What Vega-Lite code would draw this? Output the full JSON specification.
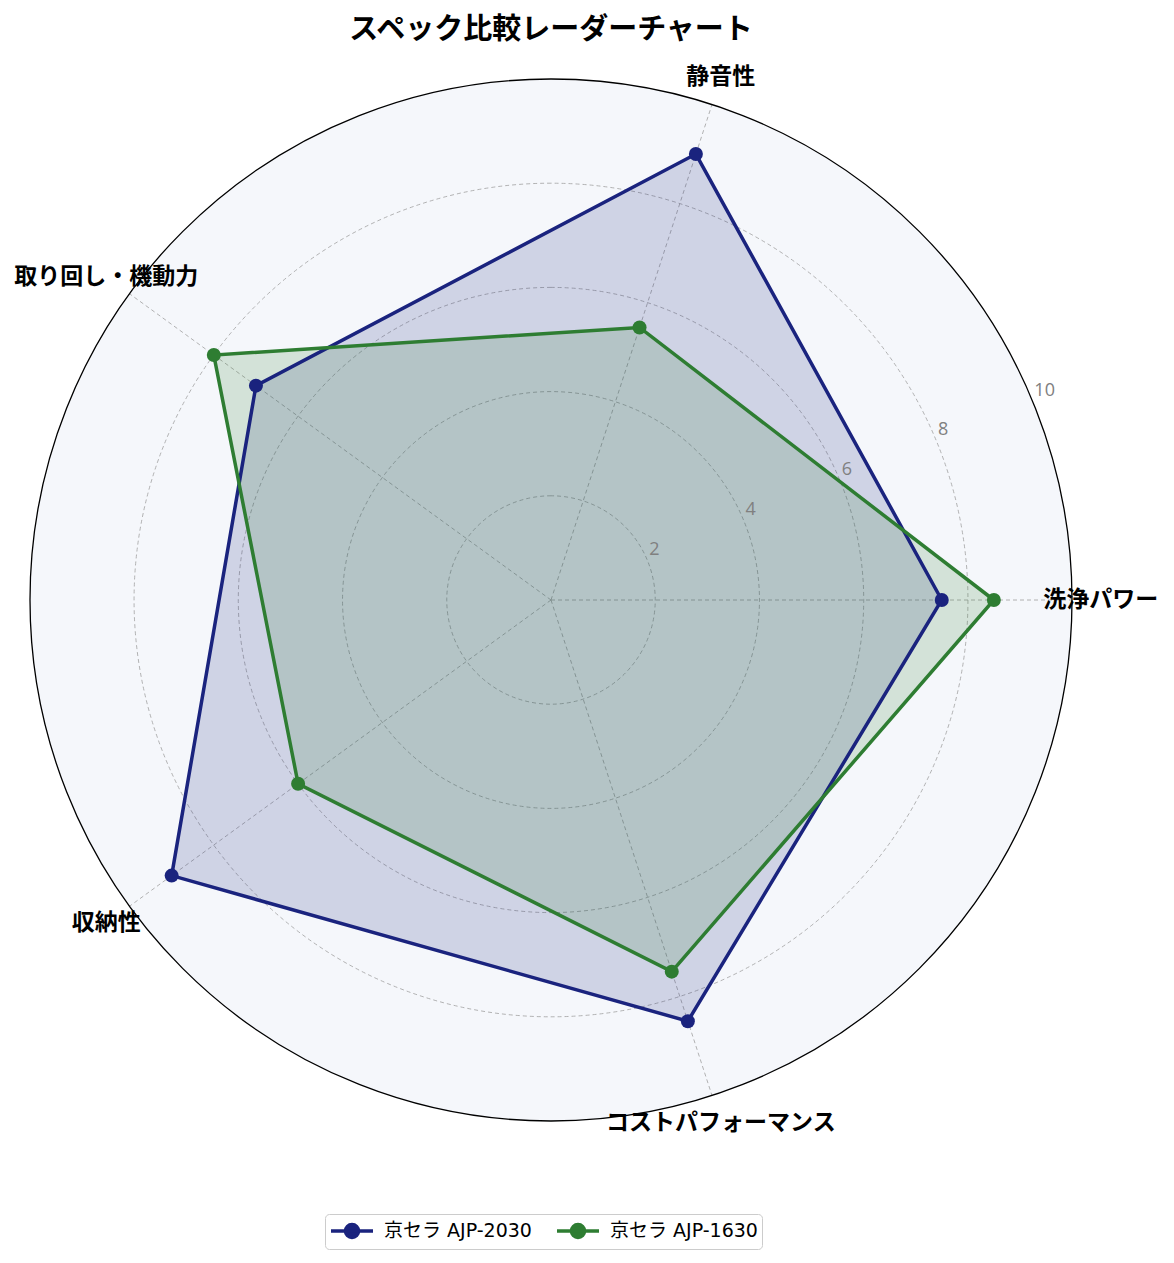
{
  "$schema": "https://vega.github.io/schema/vega-lite/v6.json",
  "width": 1042,
  "height": 1042,
  "autosize": {"type": "none"},
  "padding": {"left": 30, "top": 79, "right": 102, "bottom": 142},
  "background": "white",
  "title": {
    "text": "スペック比較レーダーチャート",
    "fontSize": 29,
    "fontWeight": "bold",
    "font": "Noto Sans CJK JP",
    "color": "black",
    "anchor": "middle",
    "frame": "group",
    "offset": 21
  },
  "config": {
    "view": {"stroke": null},
    "font": "Noto Sans CJK JP"
  },
  "datasets": {
    "scores": [
      {"product": "京セラ AJP-2030", "category": "洗浄パワー", "value": 7.5},
      {"product": "京セラ AJP-2030", "category": "静音性", "value": 9.0},
      {"product": "京セラ AJP-2030", "category": "取り回し・機動力", "value": 7.0},
      {"product": "京セラ AJP-2030", "category": "収納性", "value": 9.0},
      {"product": "京セラ AJP-2030", "category": "コストパフォーマンス", "value": 8.5},
      {"product": "京セラ AJP-1630", "category": "洗浄パワー", "value": 8.5},
      {"product": "京セラ AJP-1630", "category": "静音性", "value": 5.5},
      {"product": "京セラ AJP-1630", "category": "取り回し・機動力", "value": 8.0},
      {"product": "京セラ AJP-1630", "category": "収納性", "value": 6.0},
      {"product": "京セラ AJP-1630", "category": "コストパフォーマンス", "value": 7.5}
    ],
    "categories": [
      {"category": "洗浄パワー"},
      {"category": "静音性"},
      {"category": "取り回し・機動力"},
      {"category": "収納性"},
      {"category": "コストパフォーマンス"}
    ],
    "rings": [{"r": 2}, {"r": 4}, {"r": 6}, {"r": 8}, {"r": 10}]
  },
  "layer": [
    {
      "data": {"values": [{"r": 10}]},
      "mark": {"type": "arc", "fill": "#f5f7fb", "stroke": null},
      "encoding": {
        "radius": {"field": "r", "type": "quantitative", "stack": null, "scale": {"type": "linear", "domain": [0, 10], "range": [0, 521], "zero": true}}
      }
    },
    {
      "data": {"name": "rings"},
      "transform": [{"filter": "datum.r < 10"}],
      "mark": {"type": "arc", "filled": false, "stroke": "#a0a0a0", "strokeWidth": 0.8, "strokeDash": [4, 3]},
      "encoding": {
        "radius": {"field": "r", "type": "quantitative", "stack": null}
      }
    },
    {
      "data": {"name": "categories"},
      "transform": [
        {"calculate": "indexof(['洗浄パワー','静音性','取り回し・機動力','収納性','コストパフォーマンス'], datum.category) * 2 * PI / 5", "as": "theta"},
        {"calculate": "0", "as": "x0"},
        {"calculate": "10 * cos(datum.theta)", "as": "x1"},
        {"calculate": "10 * sin(datum.theta)", "as": "y1"}
      ],
      "mark": {"type": "rule", "stroke": "#a0a0a0", "strokeWidth": 0.8, "strokeDash": [4, 3]},
      "encoding": {
        "x": {"field": "x0", "type": "quantitative", "scale": {"domain": [-10, 10], "nice": false, "zero": false}, "axis": null},
        "y": {"field": "x0", "type": "quantitative", "scale": {"domain": [-10, 10], "nice": false, "zero": false}, "axis": null},
        "x2": {"field": "x1"},
        "y2": {"field": "y1"}
      }
    },
    {
      "data": {"values": [{"r": 10}]},
      "mark": {"type": "arc", "filled": false, "stroke": "black", "strokeWidth": 1.3},
      "encoding": {
        "radius": {"field": "r", "type": "quantitative", "stack": null}
      }
    },
    {
      "data": {"name": "scores"},
      "transform": [
        {"calculate": "indexof(['洗浄パワー','静音性','取り回し・機動力','収納性','コストパフォーマンス'], datum.category)", "as": "idx"},
        {"calculate": "datum.value * cos(datum.idx * 2 * PI / 5)", "as": "px"},
        {"calculate": "datum.value * sin(datum.idx * 2 * PI / 5)", "as": "py"}
      ],
      "layer": [
        {
          "transform": [{"filter": "datum.product == '京セラ AJP-2030'"}],
          "mark": {"type": "line", "interpolate": "linear-closed", "stroke": null, "fill": "#1a237e", "fillOpacity": 0.17},
          "encoding": {
            "x": {"field": "px", "type": "quantitative"},
            "y": {"field": "py", "type": "quantitative"},
            "order": {"field": "idx", "type": "quantitative"}
          }
        },
        {
          "transform": [{"filter": "datum.product == '京セラ AJP-1630'"}],
          "mark": {"type": "line", "interpolate": "linear-closed", "stroke": null, "fill": "#2e7d32", "fillOpacity": 0.17},
          "encoding": {
            "x": {"field": "px", "type": "quantitative"},
            "y": {"field": "py", "type": "quantitative"},
            "order": {"field": "idx", "type": "quantitative"}
          }
        },
        {
          "mark": {"type": "line", "interpolate": "linear-closed", "strokeWidth": 3.5},
          "encoding": {
            "x": {"field": "px", "type": "quantitative"},
            "y": {"field": "py", "type": "quantitative"},
            "order": {"field": "idx", "type": "quantitative"},
            "color": {
              "field": "product",
              "type": "nominal",
              "title": null,
              "sort": ["京セラ AJP-2030", "京セラ AJP-1630"],
              "scale": {"domain": ["京セラ AJP-2030", "京セラ AJP-1630"], "range": ["#1a237e", "#2e7d32"]},
              "legend": {
                "orient": "none",
                "legendX": 295,
                "legendY": 1135,
                "direction": "horizontal",
                "strokeColor": "#cccccc",
                "fillColor": "white",
                "cornerRadius": 4,
                "padding": 4,
                "labelFont": "DejaVu Sans, Noto Sans CJK JP",
                "labelFontSize": 19,
                "labelColor": "black",
                "labelOffset": 30,
                "columnPadding": 18,
                "symbolType": "M-1,0L3,0M0.38,0A0.62,0.62 0 1,1 1.62,0A0.62,0.62 0 1,1 0.38,0Z",
                "symbolSize": 441,
                "symbolStrokeWidth": 3.5
              }
            }
          }
        },
        {
          "mark": {"type": "point", "filled": true, "size": 196, "opacity": 1},
          "encoding": {
            "x": {"field": "px", "type": "quantitative"},
            "y": {"field": "py", "type": "quantitative"},
            "color": {"field": "product", "type": "nominal"}
          }
        }
      ]
    },
    {
      "data": {"name": "categories"},
      "transform": [
        {"calculate": "indexof(['洗浄パワー','静音性','取り回し・機動力','収納性','コストパフォーマンス'], datum.category) * 2 * PI / 5", "as": "theta"},
        {"calculate": "10.55 * cos(datum.theta)", "as": "lx"},
        {"calculate": "10.55 * sin(datum.theta)", "as": "ly"}
      ],
      "mark": {"type": "text", "fontSize": 23, "fontWeight": "bold", "font": "Noto Sans CJK JP", "color": "black", "align": "center", "baseline": "middle"},
      "encoding": {
        "x": {"field": "lx", "type": "quantitative"},
        "y": {"field": "ly", "type": "quantitative"},
        "text": {"field": "category"}
      }
    },
    {
      "data": {"name": "rings"},
      "transform": [
        {"calculate": "datum.r * cos(PI / 8)", "as": "tx"},
        {"calculate": "datum.r * sin(PI / 8)", "as": "ty"}
      ],
      "mark": {"type": "text", "fontSize": 18, "font": "Open Sans", "color": "#808080", "align": "left", "baseline": "bottom", "dx": 2, "dy": -1},
      "encoding": {
        "x": {"field": "tx", "type": "quantitative"},
        "y": {"field": "ty", "type": "quantitative"},
        "text": {"field": "r"}
      }
    }
  ]
}
